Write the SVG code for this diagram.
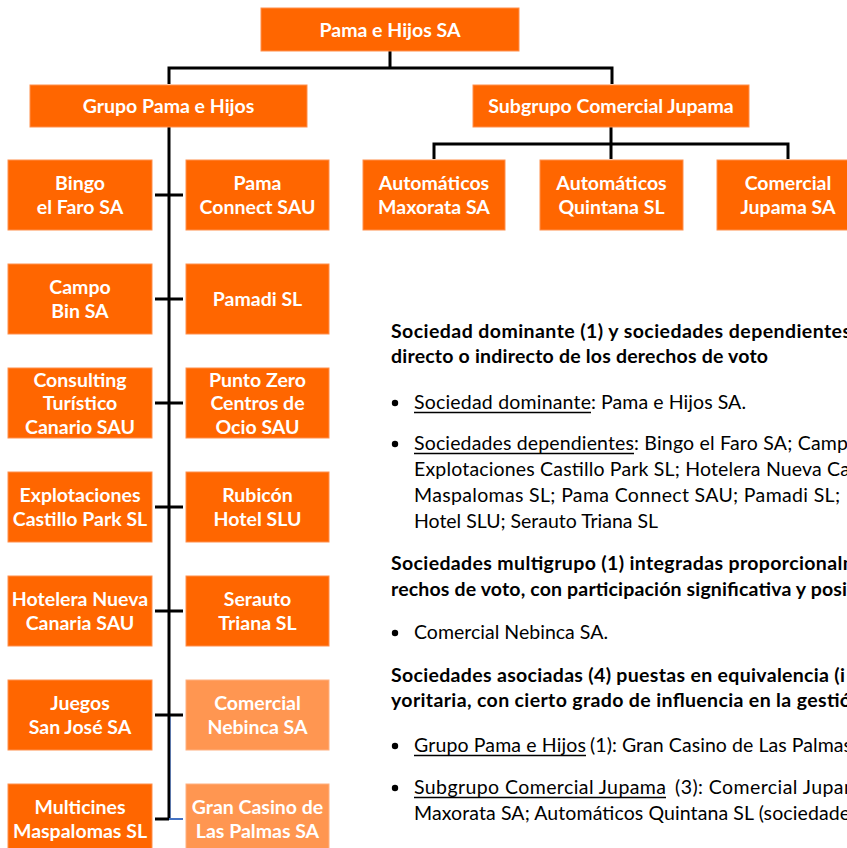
<svg xmlns="http://www.w3.org/2000/svg" width="847" height="848" viewBox="0 0 847 848">
<style>
.box{fill:#FF6600;stroke:#FF8F4D;stroke-width:1}
.lite{fill:#FF9651;stroke:#FFB080;stroke-width:1}
.lbl{font-family:Lato,"Liberation Sans",sans-serif;font-weight:700;font-size:19.5px;fill:#fff;text-anchor:middle}
.conn{stroke:#000;stroke-width:3;fill:none;stroke-linejoin:miter}
.h{font-family:Lato,"Liberation Sans",sans-serif;font-weight:700;font-size:19.5px;fill:#000}
.b{font-family:Lato,"Liberation Sans",sans-serif;font-size:19.5px;fill:#000}
.ul{stroke:#000;stroke-width:1.5}
</style>
<rect width="847" height="848" fill="#fff"/>

<g id="connectors">
  <path class="conn" d="M390 51 V68 M169 84 V68 H612 V84"/>
  <path class="conn" d="M169 127 V819"/>
  <path class="conn" d="M611 127 V144 M434 159 V144 H788 V159 M611 144 V159"/>
  <path class="conn" d="M155 195 H183 M155 299 H183 M155 403 H183 M155 507 H183 M155 611 H183 M155 715 H183 M155 819 H169"/>
  <path d="M170.5 717 V818" stroke="#4472C4" stroke-width="1" stroke-opacity="0.6" fill="none"/>
  <path d="M169 819 H183" stroke="#4472C4" stroke-width="2" fill="none"/>
</g>

<g id="n-pama"><rect class="box" x="261" y="8" width="258" height="43"/><text class="lbl" x="390" y="37">Pama e Hijos SA</text></g>
<g id="n-grupo"><rect class="box" x="30" y="85" width="277" height="42"/><text class="lbl" x="168.5" y="113">Grupo Pama e Hijos</text></g>
<g id="n-subgrupo"><rect class="box" x="473" y="85" width="276" height="42"/><text class="lbl" x="611" y="113">Subgrupo Comercial Jupama</text></g>

<g id="n-maxorata"><rect class="box" x="363" y="160" width="142" height="70"/><text class="lbl" x="434" y="190">Automáticos</text><text class="lbl" x="434" y="214">Maxorata SA</text></g>
<g id="n-quintana"><rect class="box" x="540" y="160" width="143" height="70"/><text class="lbl" x="611.5" y="190">Automáticos</text><text class="lbl" x="611.5" y="214">Quintana SL</text></g>
<g id="n-jupama"><rect class="box" x="717" y="160" width="142" height="70"/><text class="lbl" x="788" y="190">Comercial</text><text class="lbl" x="788" y="214">Jupama SA</text></g>

<g id="n-bingo"><rect class="box" x="8" y="160" width="144" height="70"/><text class="lbl" x="80" y="190">Bingo</text><text class="lbl" x="80" y="214">el Faro SA</text></g>
<g id="n-connect"><rect class="box" x="186" y="160" width="143" height="70"/><text class="lbl" x="257.5" y="190">Pama</text><text class="lbl" x="257.5" y="214">Connect SAU</text></g>

<g id="n-campo"><rect class="box" x="8" y="264" width="144" height="70"/><text class="lbl" x="80" y="294">Campo</text><text class="lbl" x="80" y="318">Bin SA</text></g>
<g id="n-pamadi"><rect class="box" x="186" y="264" width="143" height="70"/><text class="lbl" x="257.5" y="306">Pamadi SL</text></g>

<g id="n-consulting"><rect class="box" x="8" y="368" width="144" height="70"/><text class="lbl" x="80" y="387">Consulting</text><text class="lbl" x="80" y="410">Turístico</text><text class="lbl" x="80" y="434">Canario SAU</text></g>
<g id="n-puntozero"><rect class="box" x="186" y="368" width="143" height="70"/><text class="lbl" x="257.5" y="387">Punto Zero</text><text class="lbl" x="257.5" y="410">Centros de</text><text class="lbl" x="257.5" y="434">Ocio SAU</text></g>

<g id="n-explotaciones"><rect class="box" x="8" y="472" width="144" height="70"/><text class="lbl" x="80" y="502">Explotaciones</text><text class="lbl" x="80" y="526">Castillo Park SL</text></g>
<g id="n-rubicon"><rect class="box" x="186" y="472" width="143" height="70"/><text class="lbl" x="257.5" y="502">Rubicón</text><text class="lbl" x="257.5" y="526">Hotel SLU</text></g>

<g id="n-hotelera"><rect class="box" x="8" y="576" width="144" height="70"/><text class="lbl" x="80" y="606">Hotelera Nueva</text><text class="lbl" x="80" y="630">Canaria SAU</text></g>
<g id="n-serauto"><rect class="box" x="186" y="576" width="143" height="70"/><text class="lbl" x="257.5" y="606">Serauto</text><text class="lbl" x="257.5" y="630">Triana SL</text></g>

<g id="n-juegos"><rect class="box" x="8" y="680" width="144" height="70"/><text class="lbl" x="80" y="710">Juegos</text><text class="lbl" x="80" y="734">San José SA</text></g>
<g id="n-nebinca"><rect class="lite" x="186" y="680" width="143" height="70"/><text class="lbl" x="257.5" y="710">Comercial</text><text class="lbl" x="257.5" y="734">Nebinca SA</text></g>

<g id="n-multicines"><rect class="box" x="8" y="784" width="144" height="70"/><text class="lbl" x="80" y="814">Multicines</text><text class="lbl" x="80" y="838">Maspalomas SL</text></g>
<g id="n-grancasino"><rect class="lite" x="186" y="784" width="143" height="70"/><text class="lbl" x="257.5" y="814">Gran Casino de</text><text class="lbl" x="257.5" y="838">Las Palmas SA</text></g>

<g id="legend">
  <text class="h" x="391" y="338" textLength="460">Sociedad dominante (1) y sociedades dependientes</text>
  <text class="h" x="391" y="363" textLength="377">directo o indirecto de los derechos de voto</text>

  <circle cx="395" cy="403" r="3.2"/>
  <text class="b" x="414" y="409" textLength="177">Sociedad dominante</text>
  <text class="b" x="591" y="409" textLength="155">: Pama e Hijos SA.</text>
  <line class="ul" x1="414" y1="412.5" x2="591" y2="412.5"/>

  <circle cx="395" cy="444" r="3.2"/>
  <text class="b" x="414" y="450" textLength="220">Sociedades dependientes</text>
  <text class="b" x="634" y="450" textLength="214">: Bingo el Faro SA; Camp</text>
  <line class="ul" x1="414" y1="453.5" x2="634" y2="453.5"/>
  <text class="b" x="414" y="476" textLength="436">Explotaciones Castillo Park SL; Hotelera Nueva Ca</text>
  <text class="b" x="414" y="502" textLength="426">Maspalomas SL; Pama Connect SAU; Pamadi SL;</text>
  <text class="b" x="414" y="528" textLength="244">Hotel SLU; Serauto Triana SL</text>

  <text class="h" x="391" y="570" textLength="468">Sociedades multigrupo (1) integradas proporcionalm</text>
  <text class="h" x="391" y="596" textLength="456">rechos de voto, con participación significativa y posi</text>

  <circle cx="395" cy="633" r="3.2"/>
  <text class="b" x="414" y="639" textLength="194">Comercial Nebinca SA.</text>

  <text class="h" x="391" y="682" textLength="454">Sociedades asociadas (4) puestas en equivalencia (i</text>
  <text class="h" x="391" y="707" textLength="460">yoritaria, con cierto grado de influencia en la gestió</text>

  <circle cx="395" cy="746" r="3.2"/>
  <text class="b" x="414" y="752" textLength="172">Grupo Pama e Hijos</text>
  <text class="b" x="590" y="752" textLength="262">(1): Gran Casino de Las Palmas</text>
  <line class="ul" x1="414" y1="755.5" x2="586" y2="755.5"/>

  <circle cx="395" cy="788" r="3.2"/>
  <text class="b" x="414" y="794" textLength="252">Subgrupo Comercial Jupama</text>
  <text class="b" x="675" y="794" textLength="185">(3): Comercial Jupam</text>
  <line class="ul" x1="414" y1="797.5" x2="666" y2="797.5"/>
  <text class="b" x="414" y="820" textLength="436">Maxorata SA; Automáticos Quintana SL (sociedade</text>
</g>
</svg>
